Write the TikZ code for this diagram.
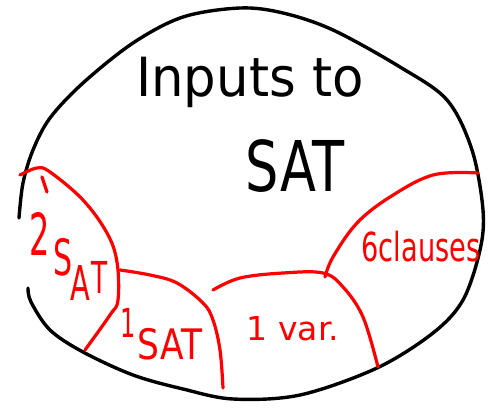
\documentclass[tikz,border=0pt]{standalone}
\usepackage{fontspec}
\usepackage{graphicx}
\setmainfont{DejaVu Sans}
\newcommand{\narrowtxt}[2]{\scalebox{#1}[1]{#2}}
\tikzset{
  outline/.style={line width=3.4pt, line cap=round, line join=round, black},
  part/.style={line width=3.2pt, line cap=round, line join=round, red},
  bigtxt/.style={inner sep=0pt},
  redtxt/.style={text=red, inner sep=0pt},
  ltr/.style={text=red, inner sep=0pt, font=\fontsize{50}{50}\selectfont}
}
\begin{document}
\begin{tikzpicture}[x=1pt,y=-1pt]
\useasboundingbox (0,0) rectangle (495,414);
% outer closed curve with a gap on the left
\draw[outline] plot[smooth, tension=0.55] coordinates {
  (28,288) (31,302) (50,330) (83,352) (133,375) (183,389) (233,399) (300,395)
  (377,368) (433,333) (463,300) (480,250) (483,210) (472,150) (447,100)
  (400,67) (333,30) (283,13) (240,8) (183,17) (133,43) (83,83) (50,118)
  (33,150) (23,183) (19,218)};
% red region boundaries
\draw[part] plot[smooth, tension=0.6] coordinates {
  (20,175) (37,168) (50,172) (83,200) (107,233) (117,262) (118,300) (110,315) (85,350)};
\draw[part] (42,177) -- (47,192);
\draw[part] plot[smooth, tension=0.6] coordinates {
  (120,270) (150,275) (177,283) (203,303) (213,320) (220,350) (223,388)};
\draw[part] plot[smooth, tension=0.6] coordinates {
  (213,290) (240,278) (283,273) (323,273) (343,287) (363,317) (378,367)};
\draw[part] plot[smooth, tension=0.6] coordinates {
  (325,277) (333,257) (357,223) (390,197) (433,175) (478,173)};
% texts
\node[bigtxt, anchor=base, font=\fontsize{54}{54}\selectfont] (t1) at (250,97) {\narrowtxt{0.95}{Inputs to}};
\node[bigtxt, anchor=base, font=\fontsize{70}{70}\selectfont] (t2) at (295,192) {\narrowtxt{0.75}{SAT}};
% 2SAT, letters stepping down
\node[ltr, font=\fontsize{58}{58}\selectfont] (r1a) at (40,234) {\narrowtxt{0.55}{2}};
\node[ltr] (r1b) at (63,257) {\narrowtxt{0.6}{S}};
\node[ltr, font=\fontsize{48}{48}\selectfont] (r1c) at (80,283) {\narrowtxt{0.6}{A}};
\node[ltr, font=\fontsize{44}{44}\selectfont] (r1d) at (100,277) {\narrowtxt{0.6}{T}};
% 1SAT
\node[ltr, font=\fontsize{40}{40}\selectfont] (r2a) at (128,323) {\narrowtxt{0.6}{1}};
\node[redtxt, font=\fontsize{42}{42}\selectfont] (r2b) at (170,344) {\narrowtxt{0.82}{SAT}};
\node[redtxt, anchor=base, font=\fontsize{33}{33}\selectfont] (r3) at (293,340) {1 var.};
\node[redtxt, anchor=base, font=\fontsize{40}{40}\selectfont] (r4) at (421,261) {\narrowtxt{0.68}{6clauses}};
\end{tikzpicture}
\end{document}
